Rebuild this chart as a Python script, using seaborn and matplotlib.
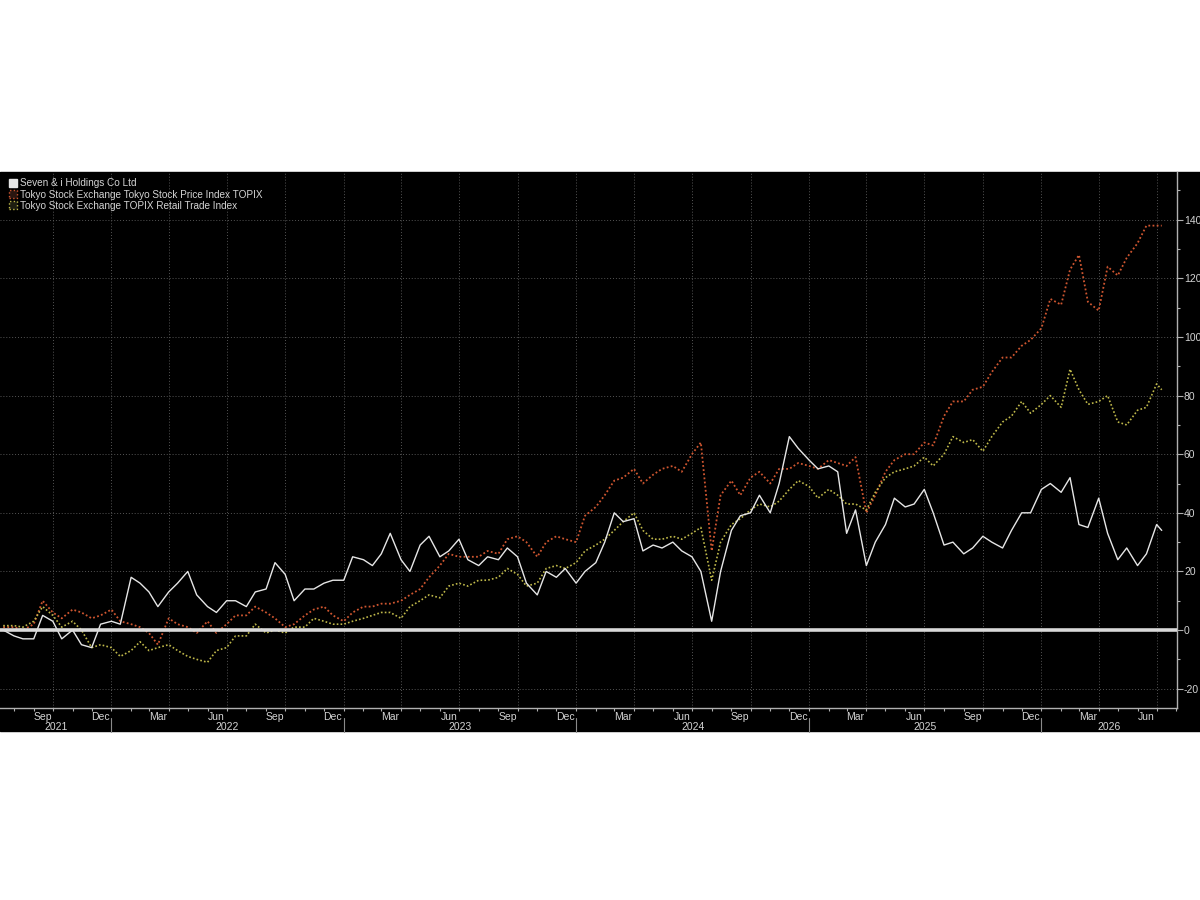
import pandas as pd
import matplotlib.pyplot as plt
import matplotlib.dates as mdates
from matplotlib.patches import Rectangle, Patch
from matplotlib.ticker import MultipleLocator
import seaborn as sns

# Data (% change since Jul 2021, semi-monthly points)
dates = list(pd.date_range("2021-07-15", "2026-07-01", freq="SMS")) + [pd.Timestamp("2026-07-09")]

seven_i = [
    0, -2, -3, -3, 5, 3, -3, 0, -5, -6, 2,
    3, 2, 18, 16, 13, 8, 13, 16, 20, 12, 8, 6, 10, 10, 8, 13, 14, 23, 19, 10, 14, 14, 16, 17,
    17, 25, 24, 22, 26, 33, 24, 20, 29, 32, 25, 27, 31, 24, 22, 25, 24, 28, 25, 16, 12, 20, 18, 21,
    16, 20, 23, 30, 40, 37, 38, 27, 29, 28, 30, 27, 25, 20, 3, 20, 34, 39, 40, 46, 40, 50, 66, 62,
    58, 55, 56, 54, 33, 41, 22, 30, 36, 45, 42, 43, 48, 40, 29, 30, 26, 28, 32, 30, 28, 34, 40, 40,
    48, 50, 47, 52, 36, 35, 45, 33, 24, 28, 22, 26, 36, 34,
]
topix = [
    1, 1, 0, 2, 10, 6, 4, 7, 6, 4, 5,
    7, 3, 2, 1, -1, -5, 4, 2, 1, -1, 3, -1, 2, 5, 5, 8, 6, 4, 1, 2, 5, 7, 8, 5,
    3, 6, 8, 8, 9, 9, 10, 12, 14, 18, 22, 26, 25, 25, 25, 27, 26, 31, 32, 30, 25, 30, 32, 31,
    30, 39, 42, 46, 51, 52, 55, 50, 53, 55, 56, 54, 60, 64, 27, 46, 51, 46, 52, 54, 50, 55, 55, 57,
    56, 55, 58, 57, 56, 59, 40, 46, 54, 58, 60, 60, 64, 63, 73, 78, 78, 82, 83, 88, 93, 93, 97, 99,
    103, 113, 111, 123, 128, 112, 109, 124, 121, 127, 132, 138, 138, 138,
]
retail = [
    1.5, 1.5, 1, 3, 8, 5, 1, 3, 0, -6, -5,
    -6, -9, -7, -4, -7, -6, -5, -7, -9, -10, -11, -7, -6, -2, -2, 2, -1, 0, -1, 1, 1, 4, 3, 2,
    2, 3, 4, 5, 6, 6, 4, 8, 10, 12, 11, 15, 16, 15, 17, 17, 18, 21, 19, 15, 16, 21, 22, 21,
    23, 27, 29, 31, 34, 37, 40, 34, 31, 31, 32, 31, 33, 35, 17, 30, 36, 38, 41, 43, 42, 44, 48, 51,
    49, 45, 48, 46, 43, 43, 41, 47, 52, 54, 55, 56, 59, 56, 60, 66, 64, 65, 61, 66, 71, 73, 78, 74,
    77, 80, 76, 89, 82, 77, 78, 80, 71, 70, 75, 76, 84, 82,
]

labels = ["Seven & i Holdings Co Ltd",
          "Tokyo Stock Exchange Tokyo Stock Price Index TOPIX",
          "Tokyo Stock Exchange TOPIX Retail Trade Index"]
c_white = "#e6e6e6"
c_topix = "#cf5630"
c_retail = "#bfb84a"
txt = "#d4d4d4"

sns.set_style("dark", {"axes.facecolor": "black"})
plt.rcParams["font.family"] = ["Liberation Sans", "DejaVu Sans"]

fig = plt.figure(figsize=(12, 9), dpi=100, facecolor="white")
# black band behind the chart
band = Rectangle((0, 1 - 731 / 900), 1, (731 - 172) / 900,
                 transform=fig.transFigure, color="black", zorder=-10)
fig.patches.append(band)
ax = fig.add_axes([0, 1 - 708 / 900, 1177 / 1200, (708 - 172) / 900])
ax.set_facecolor("black")

dots = (0, (1, 1.3))
sns.lineplot(x=dates, y=topix, ax=ax, color=c_topix, linestyle=dots, lw=1.3, zorder=3)
sns.lineplot(x=dates, y=retail, ax=ax, color=c_retail, linestyle=dots, lw=1.2, zorder=3)
sns.lineplot(x=dates, y=seven_i, ax=ax, color=c_white, lw=1.0, zorder=4)
ax.axhline(0, color="#d9d9d9", lw=2.6, zorder=5)

ax.set_xlim(pd.Timestamp("2021-07-10"), pd.Timestamp("2026-08-02"))
ax.set_ylim(-26.6, 156.3)

# grid
ax.grid(False)
for y in range(-20, 160, 20):
    ax.axhline(y, color="#555555", lw=0.7, ls=(0, (1, 2)), zorder=1)
for d in pd.date_range("2021-10-01", "2026-07-01", freq="QS"):
    ax.axvline(d, color="#555555", lw=0.7, ls=(0, (1, 2)), zorder=1)

# spines
for s in ["left", "top"]:
    ax.spines[s].set_visible(False)
for s in ["right", "bottom"]:
    ax.spines[s].set_visible(True)
    ax.spines[s].set_color("#b0b0b0")
    ax.spines[s].set_linewidth(1.0)

# y axis on right
ax.yaxis.tick_right()
ax.set_yticks(range(-20, 160, 20))
ax.set_yticklabels([str(v) for v in range(-20, 160, 20)])
ax.yaxis.set_minor_locator(MultipleLocator(10))
ax.tick_params(axis="y", which="major", direction="out", length=4, width=0.8,
               colors="#b0b0b0", labelcolor=txt, labelsize=7.5, pad=1, right=True, left=False)
ax.tick_params(axis="y", which="minor", direction="out", length=2.5, width=0.8,
               colors="#b0b0b0", right=True, left=False)

# x axis: monthly tick marks, month labels mid-month, year row
ax.xaxis.set_major_locator(mdates.MonthLocator())
ax.xaxis.set_major_formatter(plt.NullFormatter())
ax.tick_params(axis="x", which="major", direction="out", length=2.5, width=0.8,
               colors="#b0b0b0", bottom=True)
ax.set_xlabel("")
ax.set_ylabel("")
tr = ax.get_xaxis_transform()
for m in pd.date_range("2021-09-01", "2026-06-01", freq="3MS"):
    ax.text(m + pd.Timedelta(days=14), -0.016, m.strftime("%b"), transform=tr,
            ha="center", va="center", color=txt, fontsize=7.5)
year_spans = [("2021", "2021-07-10", "2022-01-01"), ("2022", "2022-01-01", "2023-01-01"),
              ("2023", "2023-01-01", "2024-01-01"), ("2024", "2024-01-01", "2025-01-01"),
              ("2025", "2025-01-01", "2026-01-01"), ("2026", "2026-01-01", "2026-08-02")]
for yr, a, b in year_spans:
    a, b = pd.Timestamp(a), pd.Timestamp(b)
    ax.text(a + (b - a) / 2, -0.035, yr, transform=tr, ha="center", va="center",
            color=txt, fontsize=7.5)
    if yr != "2021":
        ax.plot([a, a], [-0.019, -0.044], transform=tr, color="#8a8a8a", lw=0.8, clip_on=False)

# legend
handles = [Patch(facecolor=c_white, edgecolor=c_white),
           Patch(facecolor="#2a1610", edgecolor=c_topix, linestyle=":"),
           Patch(facecolor="#1e1e10", edgecolor=c_retail, linestyle=":")]
leg = ax.legend(handles, labels, loc="upper left", bbox_to_anchor=(0.002, 1.0),
                frameon=False, fontsize=7.2, handlelength=0.85, handleheight=0.85,
                handletextpad=0.3, labelspacing=0.12, borderaxespad=0.25)
for t in leg.get_texts():
    t.set_color(txt)

plt.savefig("out.png", dpi=100, facecolor="white")
